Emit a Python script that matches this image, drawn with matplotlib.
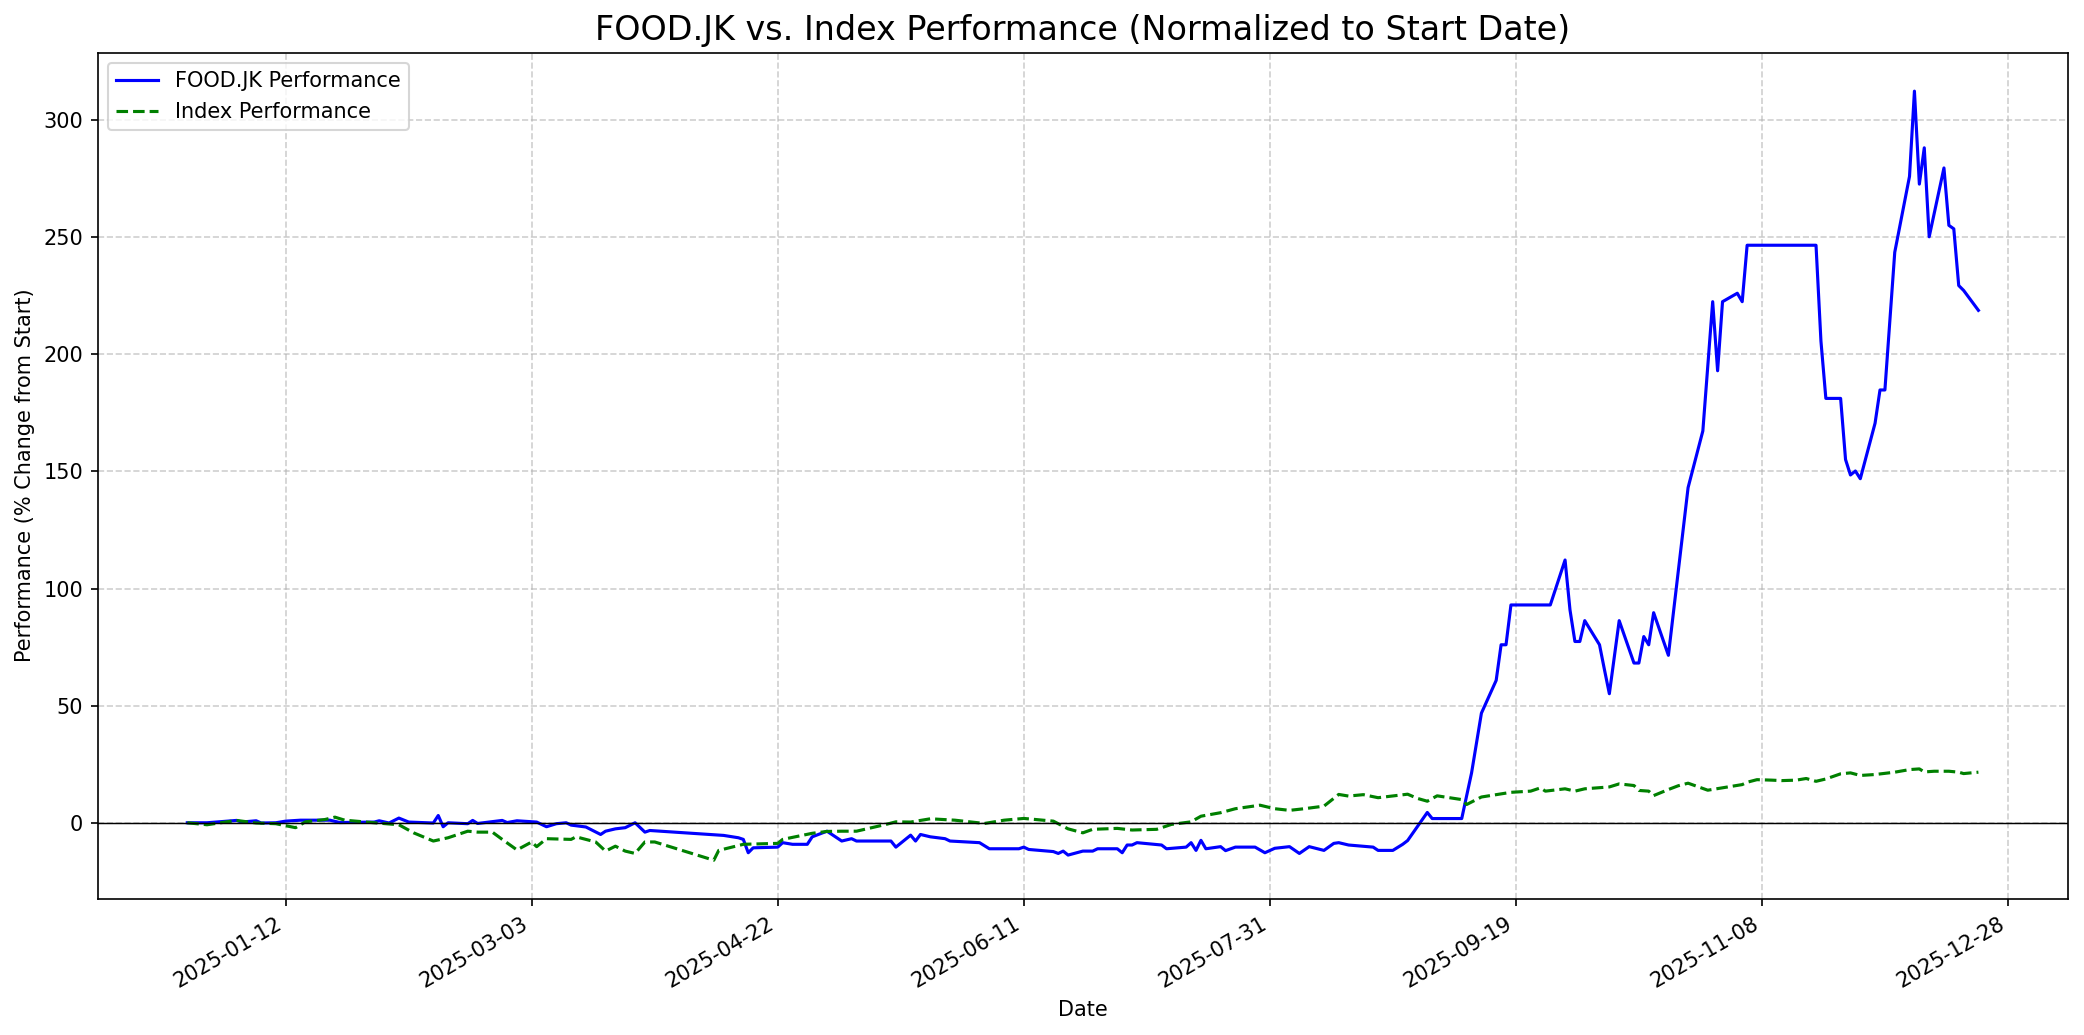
import matplotlib
matplotlib.use("Agg")
import matplotlib.pyplot as plt
import matplotlib.dates as mdates
import pandas as pd

# ---- FOOD.JK performance (% change from start) ----
food_dates = [
    "2024-12-23", "2024-12-27", "2025-01-02", "2025-01-03", "2025-01-06", "2025-01-07",
    "2025-01-10", "2025-01-12", "2025-01-15", "2025-01-21", "2025-01-23", "2025-01-30",
    "2025-01-31", "2025-02-02", "2025-02-04", "2025-02-06", "2025-02-11", "2025-02-12",
    "2025-02-13", "2025-02-14", "2025-02-18", "2025-02-19", "2025-02-20", "2025-02-25",
    "2025-02-26", "2025-02-28", "2025-03-04", "2025-03-06", "2025-03-08", "2025-03-10",
    "2025-03-11", "2025-03-14", "2025-03-17", "2025-03-18", "2025-03-20", "2025-03-22",
    "2025-03-24", "2025-03-26", "2025-03-27", "2025-04-11", "2025-04-14", "2025-04-15",
    "2025-04-16", "2025-04-17", "2025-04-22", "2025-04-23", "2025-04-25", "2025-04-28",
    "2025-04-29", "2025-05-02", "2025-05-05", "2025-05-07", "2025-05-08", "2025-05-15",
    "2025-05-16", "2025-05-19", "2025-05-20", "2025-05-21", "2025-05-23", "2025-05-26",
    "2025-05-27", "2025-06-02", "2025-06-04", "2025-06-10", "2025-06-11", "2025-06-12",
    "2025-06-17", "2025-06-18", "2025-06-19", "2025-06-20", "2025-06-23", "2025-06-25",
    "2025-06-26", "2025-06-30", "2025-07-01", "2025-07-02", "2025-07-03", "2025-07-04",
    "2025-07-09", "2025-07-10", "2025-07-14", "2025-07-15", "2025-07-16", "2025-07-17",
    "2025-07-18", "2025-07-21", "2025-07-22", "2025-07-24", "2025-07-28", "2025-07-30",
    "2025-08-01", "2025-08-04", "2025-08-06", "2025-08-08", "2025-08-11", "2025-08-13",
    "2025-08-14", "2025-08-16", "2025-08-21", "2025-08-22", "2025-08-25", "2025-08-27",
    "2025-08-28", "2025-09-01", "2025-09-02", "2025-09-08", "2025-09-10", "2025-09-12",
    "2025-09-15", "2025-09-16", "2025-09-17", "2025-09-18", "2025-09-26", "2025-09-29",
    "2025-09-30", "2025-10-01", "2025-10-02", "2025-10-03", "2025-10-06", "2025-10-07",
    "2025-10-08", "2025-10-10", "2025-10-13", "2025-10-14", "2025-10-15", "2025-10-16",
    "2025-10-17", "2025-10-20", "2025-10-24", "2025-10-27", "2025-10-29", "2025-10-30",
    "2025-10-31", "2025-11-03", "2025-11-04", "2025-11-05", "2025-11-19", "2025-11-20",
    "2025-11-21", "2025-11-24", "2025-11-25", "2025-11-26", "2025-11-27", "2025-11-28",
    "2025-12-01", "2025-12-02", "2025-12-03", "2025-12-05", "2025-12-08", "2025-12-09",
    "2025-12-10", "2025-12-11", "2025-12-12", "2025-12-15", "2025-12-16", "2025-12-17",
    "2025-12-18", "2025-12-19", "2025-12-22",
]
food_values = [
    0.0, 0.0, 1.0, 0.3, 0.85, -0.1,
    0.0, 0.7, 1.1, 1.1, 0.1, 0.3,
    0.85, -0.1, 2.0, 0.3, -0.1, 3.1,
    -1.7, 0.0, -0.4, 1.0, -0.3, 1.0,
    0.1, 0.85, 0.3, -1.7, -0.4, 0.0,
    -1.0, -1.8, -5.0, -3.6, -2.6, -2.1,
    0.0, -4.0, -3.3, -5.4, -6.4, -7.1,
    -12.8, -10.7, -10.4, -8.5, -9.2, -9.2,
    -6.0, -3.6, -7.8, -6.8, -7.8, -7.8,
    -10.4, -5.3, -7.8, -5.0, -6.0, -6.8,
    -7.8, -8.5, -11.1, -11.1, -10.4, -11.4,
    -12.3, -13.1, -12.1, -13.8, -12.1, -12.1,
    -11.1, -11.1, -12.8, -9.5, -9.5, -8.5,
    -9.5, -11.1, -10.4, -8.5, -11.8, -7.5,
    -11.1, -10.2, -11.9, -10.4, -10.4, -12.8,
    -10.9, -10.2, -13.1, -10.2, -11.8, -8.8,
    -8.5, -9.5, -10.4, -11.8, -11.8, -9.2,
    -7.6, 4.4, 1.8, 1.8, 21.3, 46.8,
    60.8, 76.0, 76.0, 93.0, 93.0, 112.2,
    90.9, 77.4, 77.4, 86.3, 76.0, 65.4,
    55.1, 86.3, 68.2, 68.2, 79.5, 76.0,
    89.7, 71.5, 143.1, 167.3, 222.5, 193.0,
    222.5, 226.1, 222.5, 246.6, 246.6, 205.7,
    181.2, 181.2, 155.1, 148.5, 150.2, 146.9,
    170.6, 184.8, 184.8, 243.6, 276.0, 312.4,
    272.7, 288.2, 250.2, 279.6, 255.1, 253.6,
    229.4, 227.3, 218.8,
]

# ---- Index performance (% change from start) ----
index_dates = [
    "2024-12-23", "2024-12-27", "2025-01-02", "2025-01-06", "2025-01-10", "2025-01-14",
    "2025-01-16", "2025-01-20", "2025-01-22", "2025-01-24", "2025-01-30", "2025-02-04",
    "2025-02-07", "2025-02-11", "2025-02-14", "2025-02-18", "2025-02-20", "2025-02-23",
    "2025-02-25", "2025-02-28", "2025-03-03", "2025-03-04", "2025-03-06", "2025-03-11",
    "2025-03-12", "2025-03-16", "2025-03-18", "2025-03-20", "2025-03-22", "2025-03-24",
    "2025-03-26", "2025-03-28", "2025-04-09", "2025-04-10", "2025-04-15", "2025-04-22",
    "2025-04-23", "2025-04-29", "2025-05-02", "2025-05-05", "2025-05-08", "2025-05-14",
    "2025-05-16", "2025-05-19", "2025-05-23", "2025-05-28", "2025-06-03", "2025-06-07",
    "2025-06-11", "2025-06-17", "2025-06-20", "2025-06-23", "2025-06-25", "2025-06-30",
    "2025-07-03", "2025-07-08", "2025-07-11", "2025-07-15", "2025-07-17", "2025-07-21",
    "2025-07-24", "2025-07-29", "2025-08-01", "2025-08-04", "2025-08-07", "2025-08-11",
    "2025-08-14", "2025-08-16", "2025-08-19", "2025-08-22", "2025-08-28", "2025-08-30",
    "2025-09-01", "2025-09-03", "2025-09-08", "2025-09-09", "2025-09-12", "2025-09-18",
    "2025-09-22", "2025-09-24", "2025-09-25", "2025-09-29", "2025-10-01", "2025-10-03",
    "2025-10-08", "2025-10-10", "2025-10-13", "2025-10-14", "2025-10-16", "2025-10-17",
    "2025-10-20", "2025-10-22", "2025-10-24", "2025-10-28", "2025-11-04", "2025-11-05",
    "2025-11-07", "2025-11-10", "2025-11-12", "2025-11-15", "2025-11-17", "2025-11-19",
    "2025-11-21", "2025-11-24", "2025-11-26", "2025-11-28", "2025-12-01", "2025-12-05",
    "2025-12-08", "2025-12-10", "2025-12-11", "2025-12-13", "2025-12-16", "2025-12-18",
    "2025-12-19", "2025-12-22",
]
index_values = [
    0.0, -0.85, 1.0, -0.1, -0.4, -2.1,
    0.4, 1.4, 2.4, 1.1, 0.0, -0.85,
    -4.3, -7.8, -6.4, -3.6, -4.0, -4.0,
    -7.1, -11.6, -8.2, -10.2, -6.8, -7.1,
    -6.0, -8.2, -12.1, -10.0, -12.1, -13.1,
    -8.2, -8.2, -16.0, -11.8, -9.2, -8.8,
    -7.1, -4.5, -3.7, -3.6, -3.6, -0.7,
    0.4, 0.3, 1.7, 1.1, -0.3, 1.1,
    1.85, 0.7, -2.6, -4.3, -2.8, -2.4,
    -3.1, -2.8, -0.7, 0.4, 2.8, 4.3,
    6.0, 7.5, 6.0, 5.3, 6.0, 7.1,
    12.1, 11.4, 12.0, 10.7, 12.2, 10.4,
    9.2, 11.5, 9.9, 7.8, 11.0, 13.0,
    13.5, 14.9, 13.5, 14.5, 13.5, 14.5,
    15.3, 16.6, 15.9, 13.8, 13.5, 11.6,
    14.2, 15.8, 16.9, 13.9, 16.3, 17.3,
    18.4, 18.2, 18.0, 18.2, 18.9, 17.7,
    18.7, 20.9, 21.3, 20.2, 20.6, 21.6,
    22.7, 23.0, 21.7, 22.0, 22.0, 21.6,
    21.0, 21.6,
]

# x tick positions / labels
tick_dates = ["2025-01-12", "2025-03-03", "2025-04-22", "2025-06-11",
              "2025-07-31", "2025-09-19", "2025-11-08", "2025-12-28"]

food_x = pd.to_datetime(food_dates)
index_x = pd.to_datetime(index_dates)
ticks_x = pd.to_datetime(tick_dates)

fig, ax = plt.subplots(figsize=(2084 / 150, 1035 / 150), dpi=150)
fig.subplots_adjust(left=0.0469, right=0.9923, bottom=0.1317, top=0.9491)

ax.plot(food_x, food_values, color="blue", linewidth=1.5, label="FOOD.JK Performance")
ax.plot(index_x, index_values, color="green", linestyle="--", linewidth=1.5,
        label="Index Performance")
ax.axhline(0, color="black", linewidth=0.7)

ax.set_title("FOOD.JK vs. Index Performance (Normalized to Start Date)", fontsize=16)
ax.set_xlabel("Date")
ax.set_ylabel("Performance (% Change from Start)")
ax.grid(True, linestyle="--", alpha=0.6)
ax.legend(loc="upper left")

ax.set_xticks(ticks_x)
ax.xaxis.set_major_formatter(mdates.DateFormatter("%Y-%m-%d"))
for lbl in ax.get_xticklabels():
    lbl.set_rotation(30)
    lbl.set_ha("right")

fig.savefig("out.png", dpi=150)
